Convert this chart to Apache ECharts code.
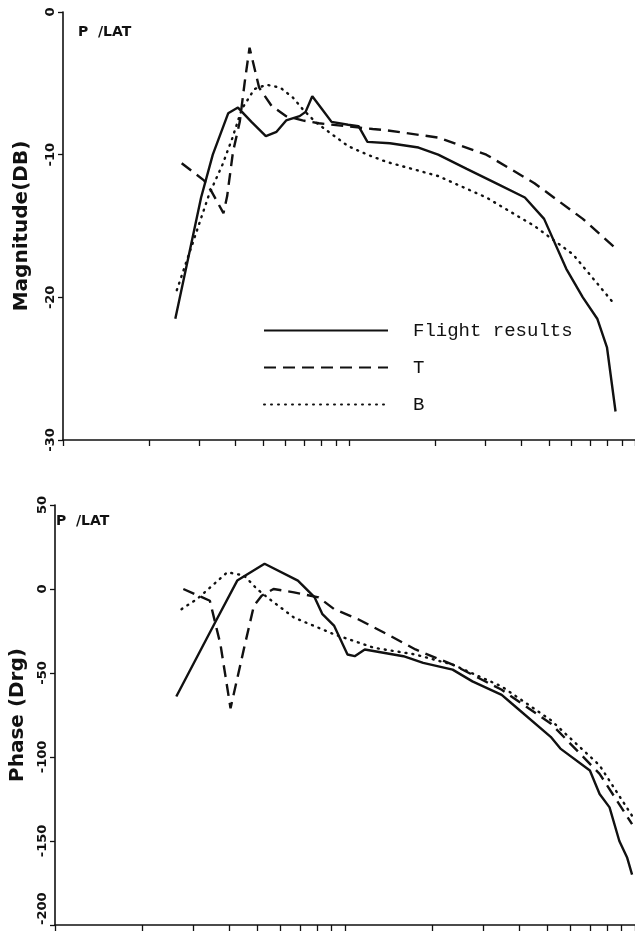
<!DOCTYPE html>
<html>
<head>
<meta charset="utf-8">
<script src="https://cdn.jsdelivr.net/npm/echarts@6/dist/echarts.min.js"></script>
<style>
  html, body { margin: 0; padding: 0; background: #fff; }
  #chart { width: 635px; height: 939px; }
</style>
</head>
<body>
<div id="chart"></div>
<script>
// tick positions on the (unlabelled) log frequency axis
const freqTicks = [1, 2, 3, 4, 5, 6, 7, 8, 9, 10, 20, 30, 40, 50, 60, 70, 80, 90, 100]

// Magnitude (dB), [frequency, value]
const magFlight = [
  [2.47, -21.5], [3.04, -13.0], [3.34, -10.0], [3.78, -7.1], [4.09, -6.7], [4.56, -7.7],
  [5.12, -8.7], [5.58, -8.4], [6.03, -7.6], [6.72, -7.3], [7.05, -7.0], [7.44, -5.9],
  [8.04, -6.8], [8.69, -7.7], [9.93, -7.9], [10.8, -8.0], [11.6, -9.1], [13.9, -9.2],
  [17.5, -9.5], [20.5, -10.0], [25.8, -11.0], [32.6, -12.0], [41.2, -13.0], [48.1, -14.5],
  [57.5, -18.0], [65.7, -20.0], [73.8, -21.5], [79.8, -23.5], [85.5, -28.0]
]
const magT = [
  [2.60, -10.6], [3.11, -11.8], [3.29, -12.5], [3.64, -14.1], [3.75, -12.9], [3.93, -9.8],
  [4.15, -7.7], [4.32, -4.9], [4.49, -2.5], [4.85, -5.3], [5.37, -6.6], [6.03, -7.3],
  [6.88, -7.6], [7.85, -7.8], [12.1, -8.2], [13.6, -8.3], [20.5, -8.8], [30.2, -10.0],
  [44.5, -12.0], [65.7, -14.5], [84.9, -16.5]
]
const magB = [
  [2.50, -19.5], [3.24, -12.8], [3.61, -10.7], [3.90, -8.9], [4.22, -6.8], [4.67, -5.4],
  [5.16, -5.1], [5.75, -5.3], [6.37, -6.0], [6.88, -6.8], [7.62, -7.7], [8.49, -8.4],
  [9.93, -9.4], [11.6, -10.0], [13.5, -10.5], [20.5, -11.5], [30.2, -13.0], [44.5, -15.0],
  [60.8, -17.0], [84.9, -20.5]
]

// Phase (deg), [frequency, value]
const phaseFlight = [
  [2.62, -64], [3.64, -17], [4.25, 5], [5.28, 15], [6.88, 5], [7.86, -5], [8.36, -15],
  [9.18, -22], [10.2, -39], [10.8, -40], [11.7, -36], [15.9, -40], [18.6, -44], [23.5, -48],
  [27.5, -55], [34.7, -63], [37.5, -68], [51.2, -88], [55.3, -95], [69.9, -108], [75.5, -122],
  [81.7, -130], [88.3, -150], [94.0, -160], [97.7, -170]
]
const phaseT = [
  [2.77, 0], [3.42, -7], [3.72, -33], [4.03, -71], [4.49, -35], [4.85, -10], [5.16, -4],
  [5.67, 0], [6.67, -2], [8.11, -5], [9.18, -12], [11.1, -18], [14.0, -27], [17.5, -36],
  [23.5, -45], [34.7, -60], [51.2, -80], [75.5, -110], [97.7, -140]
]
const phaseB = [
  [2.73, -12], [3.09, -6], [3.93, 10], [4.49, 8], [4.97, 0], [5.49, -6], [6.67, -17],
  [9.18, -27], [12.6, -35], [17.5, -39], [23.5, -45], [34.7, -58], [51.2, -78],
  [75.5, -105], [97.7, -135]
]

const seriesNames = ['Flight results', 'T', 'B']

const ink = '#111'
const labelFont = { fontFamily: 'DejaVu Sans', fontWeight: 'bold', fontSize: 13, color: ink }

const lineStyles = {
  'Flight results': { color: ink, width: 2.4, type: 'solid' },
  'T': { color: ink, width: 2.4, type: [12, 7] },
  'B': { color: ink, width: 2.4, type: [1, 6], cap: 'round' }
}

const makeX = (gridIndex) => ({
  type: 'log',
  logBase: 10,
  gridIndex,
  min: 1,
  max: 100,
  axisLine: { onZero: false, lineStyle: { color: ink, width: 1.6 } },
  axisTick: { show: true, inside: false, length: 6, customValues: freqTicks, lineStyle: { color: ink, width: 1.3 } },
  axisLabel: { show: false },
  splitLine: { show: false }
})

const makeY = (gridIndex, min, max, interval, name, nameGap, alignMin) => ({
  type: 'value',
  gridIndex,
  min,
  max,
  interval,
  name,
  nameLocation: 'middle',
  nameRotate: 90,
  nameGap,
  nameTextStyle: { fontFamily: 'DejaVu Sans', fontWeight: 'bold', fontSize: 20, color: ink },
  axisLine: { show: true, lineStyle: { color: ink, width: 1.6 } },
  axisTick: { show: true, length: 5, lineStyle: { color: ink, width: 1.3 } },
  axisLabel: Object.assign({ rotate: 90, margin: 6, alignMinLabel: alignMin }, labelFont),
  splitLine: { show: false }
})

const makeSeries = (name, data, idx) => ({
  name,
  type: 'line',
  xAxisIndex: idx,
  yAxisIndex: idx,
  data,
  symbol: 'none',
  smooth: false,
  lineStyle: lineStyles[name],
  itemStyle: { color: ink },
  silent: true
})

const chart = echarts.init(document.getElementById('chart'), null, { renderer: 'canvas' })

const option = {
  backgroundColor: '#fff',
  animation: false,
  grid: [
    { left: 63, top: 12, width: 592, height: 428 },
    { left: 45, top: 505, width: 592, height: 420 }
  ],
  xAxis: [makeX(0), makeX(1)],
  yAxis: [
    makeY(0, -30, 0, 10, 'Magnitude(DB)', 31, null),
    makeY(1, -200, 50, 50, 'Phase (Drg)', 27, 'left')
  ],
  legend: {
    data: seriesNames,
    orient: 'vertical',
    left: 258,
    top: 316,
    itemWidth: 124,
    itemHeight: 12,
    itemGap: 18,
    selectedMode: false,
    // line sample only, no marker dot
    itemStyle: { color: 'rgba(0,0,0,0)', borderWidth: 0 },
    textStyle: { fontFamily: 'Liberation Mono', fontSize: 19, color: ink, padding: [0, 0, 0, 20] }
  },
  graphic: [
    { type: 'text', left: 78, top: 25, style: { text: 'P  /LAT', font: 'bold 14px "DejaVu Sans"', fill: ink } },
    { type: 'text', left: 56, top: 514, style: { text: 'P  /LAT', font: 'bold 14px "DejaVu Sans"', fill: ink } }
  ],
  series: [
    makeSeries('Flight results', magFlight, 0),
    makeSeries('T', magT, 0),
    makeSeries('B', magB, 0),
    makeSeries('Flight results', phaseFlight, 1),
    makeSeries('T', phaseT, 1),
    makeSeries('B', phaseB, 1)
  ]
}

chart.setOption(option)
</script>
</body>
</html>
